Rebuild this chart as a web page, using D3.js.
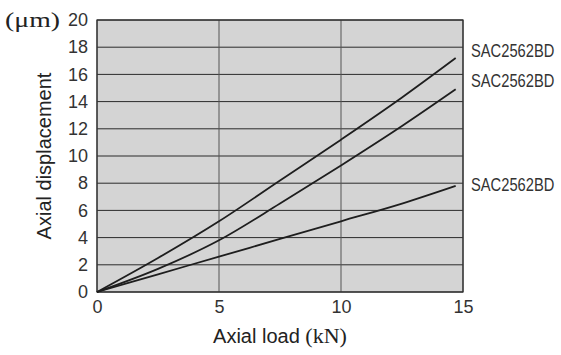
<!DOCTYPE html>
<html>
<head>
<meta charset="utf-8">
<script src="https://cdn.jsdelivr.net/npm/d3@7"></script>
<style>
  body{margin:0;background:#fff;}
  .tick text{font-family:"Liberation Sans",Arial,sans-serif;font-size:18px;fill:#333;}
</style>
</head>
<body>
<svg id="chart"></svg>
<script>
// data
const seriesNames=["SAC2562BD","SAC2562BD","SAC2562BD"];
const loadKN=[0,2.5,5,7.5,10,12.5,14.7];
const dispTop=[0,2.5,5.2,8.2,11.2,14.3,17.2];
const dispMid=[0,1.7,3.8,6.5,9.3,12.2,14.9];
const dispLow=[0,1.3,2.6,3.9,5.2,6.5,7.8];
const xTicks=[0,5,10,15];
const yTicks=[0,2,4,6,8,10,12,14,16,18,20];

const width=561,height=355;
const margin={top:20,right:98,bottom:63,left:97};
const svg=d3.select("#chart").attr("width",width).attr("height",height);

const x=d3.scaleLinear().domain([0,15]).range([margin.left,width-margin.right]);
const y=d3.scaleLinear().domain([0,20]).range([height-margin.bottom,margin.top]);

// grey plot background
svg.append("rect")
    .attr("x",x(0)).attr("y",y(20))
    .attr("width",x(15)-x(0)).attr("height",y(0)-y(20))
    .attr("fill","#d4d4d4");

// grid
svg.append("g").selectAll("line").data(yTicks).enter().append("line")
    .attr("x1",x(0)).attr("x2",x(15))
    .attr("y1",d=>y(d)).attr("y2",d=>y(d))
    .attr("stroke","#2b2b2b").attr("stroke-width",1);
svg.append("g").selectAll("line").data(xTicks).enter().append("line")
    .attr("x1",d=>x(d)).attr("x2",d=>x(d))
    .attr("y1",y(0)).attr("y2",y(20))
    .attr("stroke","#555").attr("stroke-width",1);
svg.append("rect")
    .attr("x",x(0)).attr("y",y(20))
    .attr("width",x(15)-x(0)).attr("height",y(0)-y(20))
    .attr("fill","none").attr("stroke","#2b2b2b").attr("stroke-width",1.2);

// axes (labels only)
const xAxis=svg.append("g").attr("transform","translate(0,"+y(0)+")")
    .call(d3.axisBottom(x).tickValues(xTicks).tickSize(0).tickPadding(8));
xAxis.select(".domain").remove();
const yAxis=svg.append("g").attr("transform","translate("+x(0)+",0)")
    .call(d3.axisLeft(y).tickValues(yTicks).tickSize(0).tickPadding(9));
yAxis.select(".domain").remove();

// curves
const line=d3.line().x(d=>x(d[0])).y(d=>y(d[1])).curve(d3.curveMonotoneX);
const curves=[dispTop,dispMid,dispLow].map(v=>loadKN.map((k,i)=>[k,v[i]]));
svg.append("g").selectAll("path").data(curves).enter().append("path")
    .attr("d",line)
    .attr("fill","none")
    .attr("stroke","#1e1e1e")
    .attr("stroke-width",1.8);

// series labels at the right end of each curve (narrowed like the original)
const labelY=[y(17.2)-1,y(14.9)-2,y(7.8)+5];
svg.append("g")
    .selectAll("text").data(curves).enter().append("text")
    .attr("transform",(d,i)=>"translate("+(x(15)+8)+","+labelY[i]+") scale(0.84,1)")
    .attr("font-family","'Liberation Sans',sans-serif")
    .attr("font-size",17.5)
    .attr("fill","#333")
    .text((d,i)=>seriesNames[i]);

// titles
svg.append("text")
    .attr("transform","translate(51,"+((y(0)+y(20))/2)+") rotate(-90)")
    .attr("text-anchor","middle")
    .attr("font-family","'Liberation Sans',Arial,sans-serif")
    .attr("font-size",20).attr("fill","#222")
    .text("Axial displacement");

svg.append("text")
    .attr("x",5).attr("y",27)
    .attr("font-family","'Liberation Serif','Times New Roman',serif")
    .attr("font-size",22).attr("fill","#222")
    .attr("textLength",55)
    .attr("lengthAdjust","spacingAndGlyphs")
    .text("(μm)");

const xt=svg.append("text")
    .attr("x",(x(0)+x(15))/2).attr("y",343)
    .attr("text-anchor","middle")
    .attr("font-size",20).attr("fill","#222");
xt.append("tspan").attr("font-family","'Liberation Sans',Arial,sans-serif").text("Axial load ");
xt.append("tspan").attr("font-family","'Liberation Serif','Times New Roman',serif")
    .attr("font-size",22).text("(kN)");
</script>
</body>
</html>
